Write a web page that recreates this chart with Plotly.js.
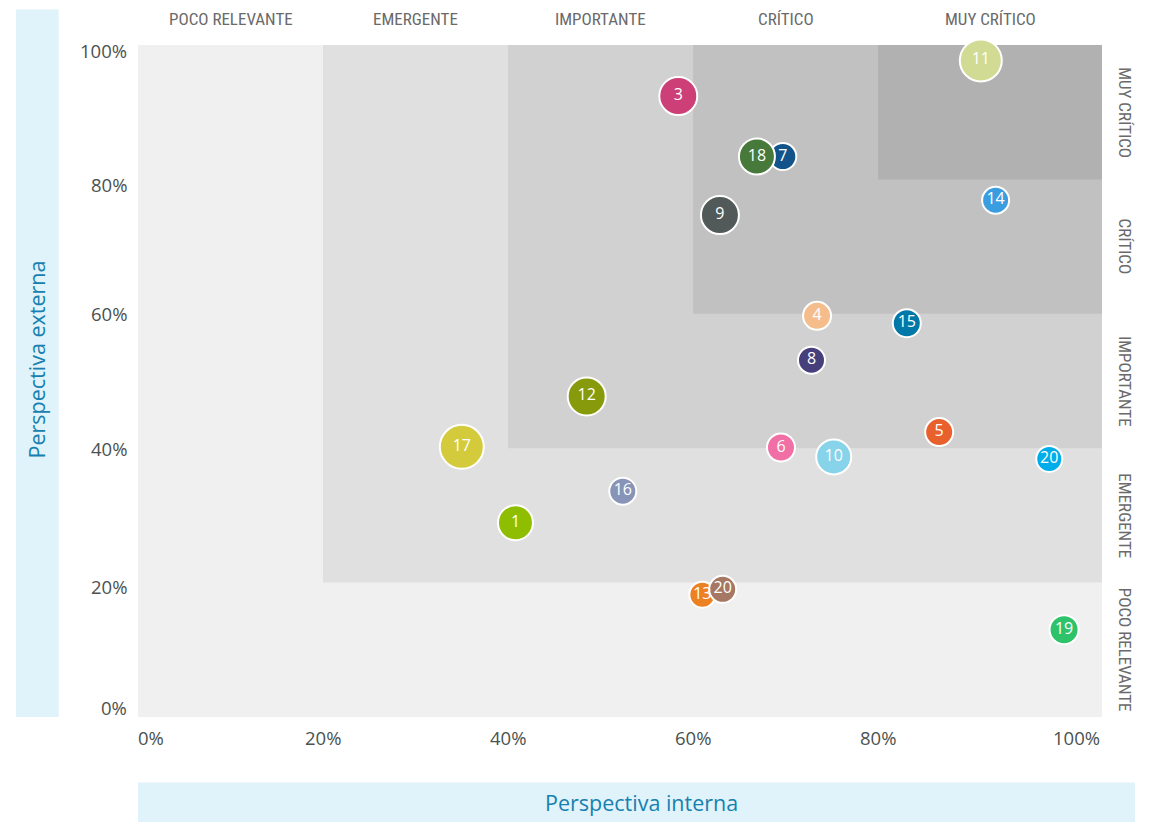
<!DOCTYPE html>
<html>
<head>
<meta charset="utf-8">
<script src="https://cdn.plot.ly/plotly-3.0.1.min.js"></script>
<style>html,body{margin:0;padding:0;background:#fff;}#chart{width:1153px;height:822px;}</style>
</head>
<body>
<div id="chart"></div>
<script>
// ---- data ----
const riskIds = ['1','3','4','5','6','7','8','9','10','11','12','13','14','15','16','17','18','19','20','20'];
const internalPct = [40.8, 58.4, 73.4, 86.6, 69.5, 69.7, 72.8, 62.9, 75.2, 91.1, 48.5, 61.0, 92.7, 83.1, 52.4, 35.0, 66.9, 100.1, 98.5, 63.2];
const externalPct = [28.9, 92.4, 59.7, 42.4, 40.1, 83.4, 53.1, 74.7, 38.7, 97.7, 47.7, 18.2, 76.9, 58.6, 33.6, 40.2, 83.4, 13.0, 38.4, 19.0];
const bubbleSize  = [37, 40, 30, 30, 30, 29, 29, 40, 37, 44, 40, 28, 29, 30, 29, 46, 38, 31, 28, 29];
const bubbleColor = ['#8fbe00','#cc3f77','#f5bd8b','#e8602c','#f06fa4','#12548a','#463f7c','#515a58','#86d3ea','#d2db93',
                     '#879a0b','#ec8123','#3a9de0','#0079a8','#8794b8','#d4cb3c','#46793a','#2ec36a','#00acea','#a67863'];
const levelLabels = ['POCO RELEVANTE','EMERGENTE','IMPORTANTE','CRÍTICO','MUY CRÍTICO'];
const levelBounds = [0, 20, 40, 60, 80];
const tickVals = [0, 20, 40, 60, 80, 100];
const tickText = ['0%','20%','40%','60%','80%','100%'];
const xTitle = 'Perspectiva interna';
const yTitle = 'Perspectiva externa';

// ---- layout helpers ----
const XMAX = 104.2;
const bandFill = ['#f0f0f0','#e0e0e0','#d1d1d1','#c1c1c1','#b1b1b1'];
const shapes = [];
// axis-title boxes
shapes.push({type:'rect', xref:'paper', yref:'paper', x0:-0.1266, x1:-0.0822, y0:0, y1:1.0528,
  fillcolor:'#e0f3fa', line:{width:0}, layer:'below'});
shapes.push({type:'rect', xref:'paper', yref:'paper', x0:0, x1:1.0342, y0:-0.0975, y1:-0.17,
  fillcolor:'#e0f3fa', line:{width:0}, layer:'below'});
levelBounds.forEach((b, i) => {
  shapes.push({type:'rect', xref:'x', yref:'y', x0:b, x1:XMAX, y0:b, y1:100,
    fillcolor:bandFill[i], line:{width:0}, layer:'below'});
});

const annotations = [];
const catFont = {family:'Roboto Condensed, DejaVu Sans Condensed, Liberation Sans Narrow, sans-serif', size:17, color:'#6a6a6a'};
levelLabels.forEach((lab, i) => {
  const lo = levelBounds[i];
  const hiX = i < levelBounds.length - 1 ? levelBounds[i+1] : XMAX;
  const hiY = i < levelBounds.length - 1 ? levelBounds[i+1] : 100;
  annotations.push({text:lab, xref:'x', yref:'paper', x:(lo+hiX)/2, y:1.0394,
    xanchor:'center', yanchor:'middle', showarrow:false, font:catFont});
  annotations.push({text:lab, xref:'paper', yref:'y', x:1.0239, y:(lo+hiY)/2,
    xanchor:'center', yanchor:'middle', showarrow:false, textangle:90, font:catFont});
});
const tickFont = {family:'Open Sans, sans-serif', size:18.5, color:'#4b5250'};
tickVals.forEach((v, i) => {
  const last = i === tickVals.length - 1;
  annotations.push({text:tickText[i], xref:'x', yref:'paper',
    x: last ? XMAX : v, y:-0.0305,
    xanchor: i === 0 ? 'left' : (last ? 'right' : 'center'), yanchor:'middle',
    showarrow:false, font:tickFont, xshift: i === 0 ? -2 : 0});
  const ysh = [10, -4, 0, 0, -5, -5][i];
  annotations.push({text:tickText[i], xref:'paper', yref:'y', x:-0.0093, y:v,
    xanchor:'right', yanchor:'middle', showarrow:false, font:tickFont, yshift:ysh});
});
const titleFont = {family:'Open Sans, sans-serif', size:21.5, color:'#1780b0'};
annotations.push({text:xTitle, xref:'paper', yref:'paper', x:0.5218, y:-0.127,
  xanchor:'center', yanchor:'middle', showarrow:false, font:titleFont});
annotations.push({text:yTitle, xref:'paper', yref:'paper', x:-0.1048, y:0.532,
  xanchor:'center', yanchor:'middle', showarrow:false, textangle:-90, font:titleFont});

const trace = {
  type:'scatter', mode:'markers+text',
  x: internalPct, y: externalPct, text: riskIds,
  textposition:'middle center',
  textfont:{family:'Open Sans, sans-serif', size:16, color:'#ffffff'},
  marker:{size: bubbleSize.map(d => d - 2), color: bubbleColor, opacity:1,
          line:{color:'#ffffff', width:2}},
  cliponaxis:false, hoverinfo:'none'
};

const layout = {
  width:1153, height:822,
  margin:{l:138, r:51, t:45, b:104.5, pad:0},
  paper_bgcolor:'#ffffff', plot_bgcolor:'#ffffff',
  showlegend:false,
  xaxis:{range:[0, XMAX], showgrid:false, zeroline:false, showticklabels:false, showline:false, ticks:'', fixedrange:true},
  yaxis:{range:[0, 100], showgrid:false, zeroline:false, showticklabels:false, showline:false, ticks:'', fixedrange:true},
  shapes: shapes,
  annotations: annotations
};

Plotly.newPlot('chart', [trace], layout, {displayModeBar:false, staticPlot:true});
</script>
</body>
</html>
